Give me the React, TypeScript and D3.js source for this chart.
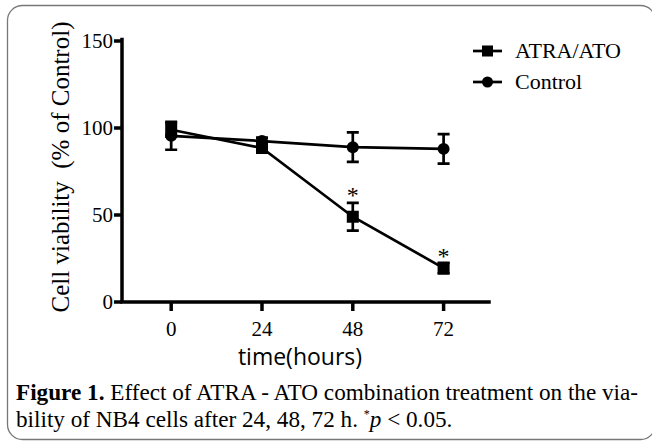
import React, { useEffect, useRef } from "react";
import * as d3 from "d3";

const hours = [0, 24, 48, 72];
const atraMean = [99, 88.5, 49, 19.5];
const atraErr = [4, 2.5, 8, 3];
const controlMean = [95.5, 92.5, 89, 88];
const controlErr = [8, 2, 8.5, 8.5];
const yTicks = [0, 50, 100, 150];
// significance markers: time point and the value where the star sits
const starHours = [48, 72];
const starValues = [64, 29];

const App = () => {
  const ref = useRef<SVGSVGElement>(null);

  useEffect(() => {
    const svg = d3.select(ref.current).attr("width", 652).attr("height", 443);
    svg.selectAll("*").remove();

    const serif = "'Liberation Serif', 'Times New Roman', serif";

    // rounded frame
    svg
      .append("rect")
      .attr("x", 7.5)
      .attr("y", 5.5)
      .attr("width", 648)
      .attr("height", 434)
      .attr("rx", 15)
      .attr("fill", "white")
      .attr("stroke", "#777")
      .attr("stroke-width", 1.3);

    const x = d3.scaleLinear().domain([-13, 84]).range([122, 489]);
    const y = d3.scaleLinear().domain([0, 150]).range([302, 41]);

    // axes (drawn by hand so the heavy GraphPad look sticks)
    const axes = svg.append("g").attr("stroke", "#000").attr("stroke-width", 3.5).attr("fill", "none");
    axes.append("path").attr("d", `M${x(-13)},${y(150) - 1.5}V${y(0)}H${x(84)}`).attr("stroke-linecap", "square");
    axes
      .selectAll("line.yt")
      .data(yTicks)
      .join("line")
      .attr("class", "yt")
      .attr("x1", x(-13) - 8)
      .attr("x2", x(-13))
      .attr("y1", (d) => y(d))
      .attr("y2", (d) => y(d));
    axes
      .selectAll("line.xt")
      .data(hours)
      .join("line")
      .attr("class", "xt")
      .attr("x1", (d) => x(d))
      .attr("x2", (d) => x(d))
      .attr("y1", y(0))
      .attr("y2", y(0) + 9);

    svg
      .append("g")
      .selectAll("text")
      .data(yTicks)
      .join("text")
      .attr("x", x(-13) - 9)
      .attr("y", (d) => y(d) + 7)
      .attr("text-anchor", "end")
      .attr("font-family", serif)
      .attr("font-size", 21)
      .attr("fill", "#000")
      .text((d) => d);

    svg
      .append("g")
      .selectAll("text")
      .data(hours)
      .join("text")
      .attr("x", (d) => x(d))
      .attr("y", 336)
      .attr("text-anchor", "middle")
      .attr("font-family", serif)
      .attr("font-size", 21)
      .attr("fill", "#000")
      .text((d) => d);

    // axis titles
    svg
      .append("text")
      .attr("transform", `translate(69,${167}) rotate(-90)`)
      .attr("text-anchor", "middle")
      .attr("font-family", serif)
      .attr("font-size", 25)
      .attr("fill", "#000")
      .style("white-space", "pre")
      .text("Cell viability  (% of Control)");

    svg
      .append("text")
      .attr("x", 300)
      .attr("y", 365)
      .attr("text-anchor", "middle")
      .attr("font-family", "'Open Sans', 'Noto Sans', sans-serif")
      .attr("font-size", 23)
      .attr("fill", "#000")
      .text("time(hours)");

    const line = d3
      .line<number>()
      .x((_, i) => x(hours[i]))
      .y((d) => y(d));

    const series = [
      { name: "ATRA/ATO", mean: atraMean, err: atraErr, shape: "square" },
      { name: "Control", mean: controlMean, err: controlErr, shape: "circle" },
    ];

    series.forEach((s) => {
      const g = svg.append("g");
      g.append("path")
        .attr("d", line(s.mean))
        .attr("fill", "none")
        .attr("stroke", "#000")
        .attr("stroke-width", 2.7);
      s.mean.forEach((m, i) => {
        const cx = x(hours[i]);
        const top = y(m + s.err[i]);
        const bot = y(m - s.err[i]);
        g.append("path")
          .attr("d", `M${cx},${top}V${bot}M${cx - 6},${top}H${cx + 6}M${cx - 6},${bot}H${cx + 6}`)
          .attr("stroke", "#000")
          .attr("stroke-width", 2.7)
          .attr("fill", "none");
        if (s.shape === "square") {
          g.append("rect")
            .attr("x", cx - 6)
            .attr("y", y(m) - 6)
            .attr("width", 12)
            .attr("height", 12)
            .attr("fill", "#000");
        } else {
          g.append("circle").attr("cx", cx).attr("cy", y(m)).attr("r", 6).attr("fill", "#000");
        }
      });
    });

    // significance stars
    starHours.forEach((h, i) => {
      svg
        .append("text")
        .attr("x", x(h))
        .attr("y", y(starValues[i]) + 12)
        .attr("text-anchor", "middle")
        .attr("font-family", serif)
        .attr("font-size", 24)
        .attr("fill", "#000")
        .text("*");
    });

    // legend
    series.forEach((s, i) => {
      const ly = 51 + i * 31;
      const g = svg.append("g");
      g.append("line")
        .attr("x1", 473)
        .attr("x2", 502)
        .attr("y1", ly)
        .attr("y2", ly)
        .attr("stroke", "#000")
        .attr("stroke-width", 2.7);
      if (s.shape === "square") {
        g.append("rect").attr("x", 482).attr("y", ly - 5.5).attr("width", 11).attr("height", 11).attr("fill", "#000");
      } else {
        g.append("circle").attr("cx", 487.5).attr("cy", ly).attr("r", 5.5).attr("fill", "#000");
      }
      g.append("text")
        .attr("x", 515)
        .attr("y", ly + 7)
        .attr("font-family", serif)
        .attr("font-size", 22)
        .attr("fill", "#000")
        .text(s.name);
    });

    // caption
    const cap1 = svg
      .append("text")
      .attr("x", 16)
      .attr("y", 400)
      .attr("font-family", serif)
      .attr("font-size", 23.2)
      .attr("fill", "#000");
    cap1.append("tspan").attr("font-weight", "bold").text("Figure 1.");
    cap1.append("tspan").text(" Effect of ATRA - ATO combination treatment on the via-");

    const cap2 = svg
      .append("text")
      .attr("x", 16)
      .attr("y", 427)
      .attr("font-family", serif)
      .attr("font-size", 23.2)
      .attr("fill", "#000");
    cap2.append("tspan").text("bility of NB4 cells after 24, 48, 72 h. ");
    cap2.append("tspan").attr("font-size", 12).attr("dy", -9).text("*");
    cap2.append("tspan").attr("font-style", "italic").attr("dy", 9).text("p");
    cap2.append("tspan").text(" < 0.05.");
  }, []);

  return (
    <svg ref={ref} style={{ position: "absolute", left: 0, top: 0 }}></svg>
  );
};

export default App;
